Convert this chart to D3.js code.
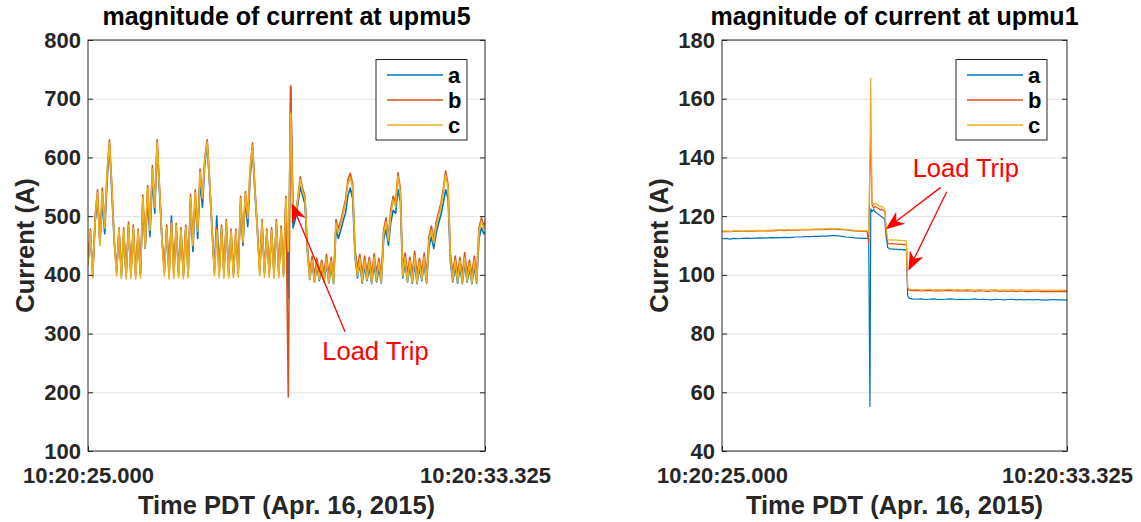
<!DOCTYPE html>
<html><head><meta charset="utf-8">
<script src="https://cdn.jsdelivr.net/npm/d3@7"></script>
<style>
body{margin:0;background:#fff;}
text{font-family:Arial,"Liberation Sans",Helvetica,sans-serif;}
</style></head><body>
<svg id="chart" width="1141" height="522"></svg>
<script>
// ---------------- data ----------------
const seriesNames = ["a", "b", "c"];
const seriesColors = ["#0072BD", "#D95319", "#EDB120"];
const xTickValues = [0, 8.325];
const xTickLabels = ["10:20:25.000", "10:20:33.325"];
const leftYTicks = [100, 200, 300, 400, 500, 600, 700, 800];
const rightYTicks = [40, 60, 80, 100, 120, 140, 160, 180];
const leftTitle = "magnitude of current at upmu5";
const rightTitle = "magnitude of current at upmu1";
const xLabel = "Time PDT (Apr. 16, 2015)";
const yLabel = "Current (A)";
const annotationText = "Load Trip";

// upmu5 sampled every 0.05 s
const upmu5Step = 0.05;
const upmu5A = [420,470,402,490,530,452,525,470,560,620,
540,455,408,475,402,470,400,482,402,478,
400,470,403,525,445,530,465,565,505,620,
540,460,408,478,402,500,402,480,404,470,
402,478,404,525,440,530,462,560,515,590,
622,552,478,408,500,404,478,404,485,404,
470,404,470,406,520,450,528,482,565,615,
540,478,408,485,406,470,404,472,404,485,
404,475,400,525,360,720,480,495,520,550,
535,520,440,392,420,388,415,390,412,388,
420,386,415,385,478,462,476,492,505,535,
548,530,430,395,420,386,415,390,412,385,
418,388,410,386,460,478,450,490,510,505,
545,525,395,420,388,414,386,420,385,412,
390,420,386,448,465,445,470,488,502,522,
545,530,420,388,415,386,414,385,420,388,
410,385,415,386,462,480,470,475];
const upmu5B = [425,478,398,500,545,455,548,485,575,630,
552,462,404,480,398,480,398,490,398,485,
398,478,400,536,450,552,480,586,520,630,
550,465,404,485,398,492,398,488,400,480,
398,485,400,537,455,545,478,580,534,600,
630,562,483,404,480,400,485,400,494,400,
478,400,478,402,534,460,542,500,582,625,
548,483,404,494,402,478,402,480,400,494,
400,483,402,534,192,722,515,505,531,567,
547,534,449,404,432,398,428,405,425,402,
435,400,430,395,494,478,492,510,528,562,
573,555,443,412,435,402,432,405,430,400,
436,403,428,400,477,497,465,511,534,523,
574,547,410,437,403,430,402,440,400,428,
405,437,400,465,483,460,489,506,522,545,
577,554,437,403,432,402,430,400,438,402,
425,400,432,400,480,497,483,495];
const upmu5C = [415,475,395,495,540,450,542,480,575,625,
548,458,398,478,394,476,393,485,394,480,
393,474,395,532,446,548,476,580,515,625,
546,462,398,480,393,488,394,484,395,476,
393,480,395,532,450,540,474,575,530,596,
626,558,480,398,476,395,480,394,490,395,
474,395,474,396,530,456,538,496,578,620,
545,478,398,490,396,474,396,476,394,490,
395,478,396,530,440,675,510,500,528,562,
542,530,445,392,425,387,422,392,420,388,
428,386,424,385,488,472,486,504,522,555,
566,548,436,398,428,388,425,392,424,386,
430,390,422,387,470,490,458,504,528,516,
568,540,398,430,389,424,388,432,386,422,
392,430,387,458,476,454,482,500,516,540,
570,548,428,390,425,388,424,386,430,390,
420,386,425,388,474,492,478,490];

// upmu1 sample times (s) and values
const upmu1Time = [0,0.1,0.2,0.3,0.4,0.5,0.6,0.7,0.8,0.9,1.0,1.1,1.2,1.3,1.4,1.5,1.6,1.7,1.8,1.9,2.0,2.1,2.2,2.3,2.4,2.5,2.6,2.7,2.8,2.9,3.0,3.1,3.2,3.3,3.4,3.5,
3.54,3.57,3.59,3.62,3.66,3.70,3.74,3.78,3.82,3.86,3.90,3.93,3.96,4.00,4.05,4.10,4.15,4.20,4.25,4.30,4.35,4.40,4.45,4.48,4.52,
4.6,4.7,4.8,4.9,5.0,5.1,5.2,5.3,5.4,5.5,5.6,5.7,5.8,5.9,6.0,6.1,6.2,6.3,6.4,6.5,6.6,6.7,6.8,6.9,7.0,7.1,7.2,7.3,7.4,7.5,7.6,7.7,7.8,7.9,8.0,8.1,8.2,8.3,8.325];
const upmu1A = [112.3,112.4,112.2,112.4,112.3,112.4,112.5,112.4,112.5,112.6,112.5,112.6,112.7,112.6,112.7,112.8,112.7,112.8,112.9,112.9,113.0,113.0,113.1,113.1,113.2,113.2,113.3,113.4,113.3,113.1,112.9,112.8,112.6,112.5,112.4,112.4,
112.2,55.2,122.5,121.5,122.2,121.3,121.0,120.6,120.1,119.7,119.3,118.9,113.0,109.3,108.8,108.9,108.7,108.8,108.6,108.7,108.5,108.6,108.4,92.8,92.0,
91.8,91.7,91.8,91.6,91.7,91.8,91.7,91.6,91.7,91.8,91.7,91.6,91.7,91.6,91.7,91.8,91.6,91.7,91.6,91.5,91.7,91.6,91.5,91.6,91.7,91.5,91.6,91.5,91.6,91.5,91.6,91.5,91.4,91.5,91.6,91.5,91.5,91.4,91.5];
const upmu1B = [114.7,114.8,114.7,114.9,114.8,114.8,114.9,115.0,114.9,115.0,115.0,115.1,115.0,115.1,115.2,115.1,115.2,115.3,115.2,115.3,115.4,115.3,115.4,115.5,115.4,115.5,115.6,115.6,115.5,115.4,115.3,115.1,115.0,114.9,114.8,114.8,
110.7,136.0,149.5,124.0,122.7,123.3,122.9,122.6,122.1,122.4,121.8,121.5,115.3,110.8,110.5,110.7,110.5,110.6,110.4,110.5,110.3,110.4,110.2,95.3,94.7,
94.6,94.7,94.5,94.6,94.7,94.5,94.6,94.5,94.6,94.7,94.5,94.6,94.5,94.6,94.5,94.4,94.6,94.5,94.4,94.5,94.6,94.4,94.5,94.4,94.5,94.3,94.5,94.4,94.3,94.4,94.5,94.3,94.4,94.3,94.4,94.3,94.4,94.3,94.4];
const upmu1C = [114.9,115.0,114.8,115.0,115.0,114.9,115.1,115.1,115.0,115.2,115.1,115.2,115.2,115.3,115.3,115.3,115.4,115.4,115.4,115.5,115.5,115.5,115.6,115.6,115.6,115.7,115.8,115.7,115.7,115.6,115.5,115.3,115.2,115.1,115.0,115.0,
114.9,140.0,167.0,125.2,123.8,124.4,124.0,123.6,123.1,123.4,122.7,122.3,116.0,112.0,111.8,112.0,111.8,111.9,111.7,111.8,111.6,111.7,111.5,95.8,95.1,
95.0,95.1,94.9,95.0,95.1,94.9,95.0,94.9,95.0,95.1,94.9,95.0,94.9,95.0,95.0,94.8,95.0,94.9,94.8,94.9,95.0,94.8,94.9,94.8,94.9,94.8,94.9,94.8,94.8,94.8,94.9,94.7,94.8,94.8,94.8,94.7,94.8,94.7,94.8];

// annotation anchors in data units [time, current]
const leftArrows = [{tail: [5.389, 303], tip: [4.271, 522]}];
const leftLabelPos = [4.913, 255];
const rightArrows = [{tail: [5.277, 129.8], tip: [3.95, 115.5]},
                     {tail: [5.422, 128.3], tip: [4.496, 101.4]}];
const rightLabelPos = [4.6, 133.2];

// ---------------- drawing ----------------
const svg = d3.select("#chart");
const FG = "#262626";
const FONT = "Arial, 'Liberation Sans', sans-serif";

const leftTimes = upmu5A.map((_, i) => i * upmu5Step);

const panels = [
  {id: "L", x0: 88, x1: 485, y0: 40, y1: 451, yDomain: [100, 800], yTicks: leftYTicks, title: leftTitle,
   series: [upmu5A, upmu5B, upmu5C], times: leftTimes, lw: 1.6,
   legend: {x: 376, y: 59.5, w: 91, h: 80.5}, arrows: leftArrows, labelPos: leftLabelPos},
  {id: "R", x0: 722, x1: 1067, y0: 40, y1: 451, yDomain: [40, 180], yTicks: rightYTicks, title: rightTitle,
   series: [upmu1A, upmu1B, upmu1C], times: upmu1Time, lw: 1.2,
   legend: {x: 956, y: 59.5, w: 91, h: 80.5}, arrows: rightArrows, labelPos: rightLabelPos}
];

panels.forEach(p => {
  const g = svg.append("g");
  const x = d3.scaleLinear().domain([0, 8.325]).range([p.x0, p.x1]);
  const y = d3.scaleLinear().domain(p.yDomain).range([p.y1, p.y0]);
  const W = p.x1 - p.x0, H = p.y1 - p.y0;

  // grid
  const grid = g.append("g").attr("transform", `translate(${p.x0},0)`)
    .call(d3.axisLeft(y).tickValues(p.yTicks).tickSize(-W).tickFormat(""));
  grid.select(".domain").remove();
  grid.selectAll("line").attr("stroke", "#e2e2e2").attr("stroke-width", 1);

  // clip
  svg.append("clipPath").attr("id", "clip" + p.id).append("rect")
    .attr("x", p.x0).attr("y", p.y0).attr("width", W).attr("height", H);

  const line = d3.line().x((d, i) => x(p.times[i])).y(d => y(d));
  const lg = g.append("g").attr("clip-path", `url(#clip${p.id})`);
  p.series.forEach((s, k) => {
    lg.append("path").datum(s).attr("d", line).attr("fill", "none")
      .attr("stroke", seriesColors[k]).attr("stroke-width", p.lw).attr("stroke-linejoin", "round");
  });

  // frame
  g.append("rect").attr("x", p.x0).attr("y", p.y0).attr("width", W).attr("height", H)
    .attr("fill", "none").attr("stroke", FG).attr("stroke-width", 1);

  // y axis left (inward ticks)
  const ya = g.append("g").attr("transform", `translate(${p.x0},0)`)
    .call(d3.axisLeft(y).tickValues(p.yTicks).tickSizeInner(-5).tickSizeOuter(0).tickPadding(7));
  ya.select(".domain").remove();
  ya.selectAll("line").attr("stroke", FG);
  ya.selectAll("text").attr("fill", FG).style("font-size", "22px").style("font-weight", "bold")
    .style("font-family", FONT);
  // y axis right ticks
  const yr = g.append("g").attr("transform", `translate(${p.x1},0)`)
    .call(d3.axisRight(y).tickValues(p.yTicks).tickSizeInner(-5).tickSizeOuter(0).tickFormat(""));
  yr.select(".domain").remove();
  yr.selectAll("line").attr("stroke", FG);

  // x axis
  const xa = g.append("g").attr("transform", `translate(0,${p.y1})`)
    .call(d3.axisBottom(x).tickValues(xTickValues).tickFormat((d, i) => xTickLabels[i])
      .tickSizeInner(-5).tickSizeOuter(0).tickPadding(16));
  xa.select(".domain").remove();
  xa.selectAll("line").attr("stroke", FG);
  xa.selectAll("text").attr("fill", FG).style("font-size", "22px").style("font-weight", "bold")
    .style("font-family", FONT);

  // title
  g.append("text").attr("x", (p.x0 + p.x1) / 2).attr("y", 25).attr("text-anchor", "middle")
    .style("font-size", "25px").style("font-weight", "bold").attr("fill", "#000").text(p.title);
  // x label
  g.append("text").attr("x", (p.x0 + p.x1) / 2).attr("y", 514).attr("text-anchor", "middle")
    .style("font-size", "25.5px").style("font-weight", "bold").attr("fill", FG).text(xLabel);
  // y label
  g.append("text").attr("transform", `translate(${p.x0 - 54},${(p.y0 + p.y1) / 2}) rotate(-90)`)
    .attr("text-anchor", "middle").style("font-size", "25.5px").style("font-weight", "bold")
    .attr("fill", FG).text(yLabel);

  // legend
  const L = p.legend;
  const leg = g.append("g");
  leg.append("rect").attr("x", L.x).attr("y", L.y).attr("width", L.w).attr("height", L.h)
    .attr("fill", "#fff").attr("stroke", FG).attr("stroke-width", 1);
  seriesNames.forEach((n, k) => {
    const yy = L.y + 15.5 + k * 25;
    leg.append("line").attr("x1", L.x + 11).attr("x2", L.x + 67).attr("y1", yy).attr("y2", yy)
      .attr("stroke", seriesColors[k]).attr("stroke-width", 1.5);
    leg.append("text").attr("x", L.x + 72).attr("y", yy).attr("dy", "0.36em")
      .style("font-size", "22px").style("font-weight", "bold").attr("fill", "#000").text(n);
  });

  // annotations
  const red = "#ff0000";
  p.arrows.forEach(a => {
    const tx = x(a.tail[0]), ty = y(a.tail[1]);
    const hx = x(a.tip[0]), hy = y(a.tip[1]);
    const dx = hx - tx, dy = hy - ty, len = Math.hypot(dx, dy);
    const ux = dx / len, uy = dy / len, nx = -uy, ny = ux;
    const HL = 19, HW = 15;
    const bx = hx - ux * HL, by = hy - uy * HL;
    const kx = hx - ux * HL * 0.7, ky = hy - uy * HL * 0.7;
    g.append("line").attr("x1", tx).attr("y1", ty).attr("x2", kx).attr("y2", ky)
      .attr("stroke", red).attr("stroke-width", 1.3);
    g.append("polygon").attr("points",
      [[hx, hy], [bx + nx * HW / 2, by + ny * HW / 2], [kx, ky], [bx - nx * HW / 2, by - ny * HW / 2]]
        .map(q => q.join(",")).join(" "))
      .attr("fill", red);
  });
  g.append("text").attr("x", x(p.labelPos[0])).attr("y", y(p.labelPos[1]))
    .style("font-size", "25.5px").attr("fill", red).text(annotationText);
});
</script>
</body></html>
